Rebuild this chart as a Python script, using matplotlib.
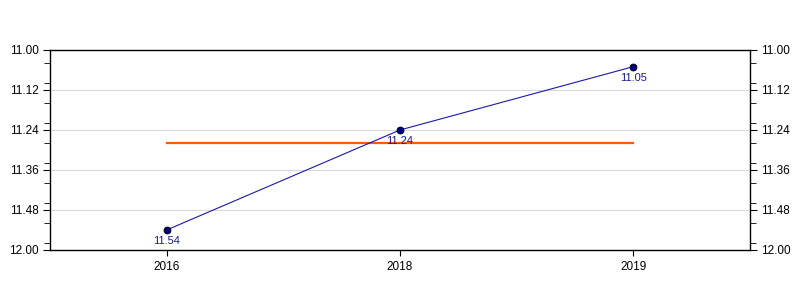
import numpy as np
import matplotlib.pyplot as plt
from matplotlib.ticker import MultipleLocator

plt.rcParams['font.family'] = ['Liberation Sans', 'DejaVu Sans']

years = ['2016', '2018', '2019']
values = [11.54, 11.24, 11.05]
avg_value = 11.28
ytick_vals = [11.00, 11.12, 11.24, 11.36, 11.48, 11.60]
ytick_labels = ['11.00', '11.12', '11.24', '11.36', '11.48', '12.00']

fig = plt.figure(figsize=(8, 3), dpi=100)
ax = fig.add_axes([0.0625, 0.1667, 0.875, 0.6667])

x = np.arange(len(years))
ax.plot(x, values, color='#1a1aa6', lw=0.8, marker='o', ms=5,
        mfc='#000080', mec='black', mew=0.6, zorder=3)
ax.plot([x[0], x[-1]], [avg_value, avg_value], color='#ff5a0a', lw=1.6, zorder=2)

for xi, v in zip(x, values):
    ax.annotate('%.2f' % v, (xi, v), xytext=(0, -4.5), textcoords='offset points',
                ha='center', va='top', fontsize=8, color='#1a1a8c', zorder=4)

ax.set_xlim(-0.5, len(years) - 0.5)
ax.set_ylim(11.60, 11.00)
ax.set_xticks(x)
ax.set_xticklabels(years)
ax.set_yticks(ytick_vals)
ax.set_yticklabels(ytick_labels)
ax.yaxis.set_minor_locator(MultipleLocator(0.06))
ax.tick_params(axis='y', which='both', left=True, right=True,
               labelleft=True, labelright=True, direction='out')
ax.tick_params(axis='y', which='major', length=5, labelsize=8.5, pad=3)
ax.tick_params(axis='y', which='minor', length=4)
ax.tick_params(axis='x', length=4, labelsize=8.5, direction='out', pad=4)

for yv in ytick_vals[1:-1]:
    ax.axhline(yv, color='#d9d9d9', lw=0.8, zorder=1)

for s in ax.spines.values():
    s.set_linewidth(1.0)

fig.savefig('out.png', dpi=100)
